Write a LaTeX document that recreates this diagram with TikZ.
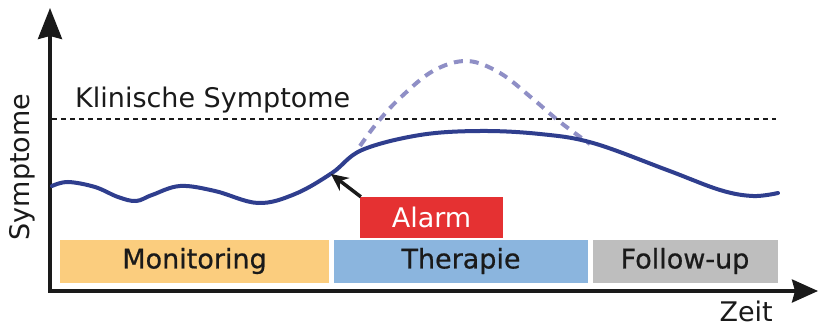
\documentclass[tikz,border=0pt]{standalone}
\usepackage{fontspec}
\setmainfont{DejaVu Sans}
\newfontfamily\boxfont{DejaVu Sans}[FakeBold=0.6]
\usetikzlibrary{arrows.meta}
\definecolor{axisc}{HTML}{1A1A1A}
\definecolor{curvec}{HTML}{2F3E8E}
\definecolor{dashc}{HTML}{8F8FC6}
\definecolor{monc}{HTML}{FBCD7E}
\definecolor{therc}{HTML}{8BB5DE}
\definecolor{follc}{HTML}{BEBEBE}
\definecolor{alarmc}{HTML}{E53132}
\tikzset{
  axisline/.style={line width=3.5pt, draw=axisc},
  lbl/.style={font=\fontsize{27}{32}\selectfont, text=axisc, inner sep=0pt},
  phasebox/.style={minimum height=43pt, inner sep=0pt, draw=none,
    font=\boxfont\fontsize{27}{32}\selectfont, text=axisc},
  mainc/.style={line width=4pt, draw=curvec, line cap=round},
  altc/.style={line width=4pt, draw=dashc, dash pattern=on 9pt off 7pt},
  thresh/.style={line width=1.5pt, draw=axisc, dash pattern=on 5pt off 4pt},
}
\begin{document}
\begin{tikzpicture}[x=1pt,y=-1pt]
\useasboundingbox (0,0) rectangle (818,326);
\fill[white] (0,0) rectangle (818,326);
% axes
\coordinate (o) at (50,291);
\coordinate (ytop) at (50,8);
\coordinate (xend) at (818,291);
\coordinate (xstart) at (48,291);
\draw[axisline, -{Stealth[length=31pt,width=24pt,inset=3pt]}] (o) -- (ytop);
\draw[axisline, -{Stealth[length=26pt,width=23pt,inset=3pt]}] (xstart) -- (xend);
\node[lbl, rotate=90] (ylab) at (22,167) {Symptome};
\node[lbl, anchor=base east] (xlab) at (773,321) {Zeit};
% threshold
\coordinate (t1) at (52,119);
\coordinate (t2) at (776,119);
\draw[thresh] (t1) -- (t2);
\node[lbl, anchor=base west] (klin) at (75,107) {Klinische Symptome};
% alternative curve (dashed)
\draw[altc] plot[smooth, tension=0.6] coordinates {(360,146) (377,123) (400,98) (433,71) (467,61) (500,73) (533,99) (560,122) (590,144)};
% main curve
\draw[mainc] plot[smooth, tension=0.6] coordinates {(52,186) (68,182) (95,187) (118,197) (136,201) (152,195) (180,186) (215,191) (258,203) (295,194) (332,173) (362,150) (420,135) (480,131) (540,134) (593,143) (667,170) (720,190) (753,196) (778,193)};
% phase boxes
\node[phasebox, fill=monc, minimum width=269pt] (mon) at (194.5,261) {Monitoring};
\node[phasebox, fill=therc, minimum width=254pt] (ther) at (461,261) {Therapie};
\node[phasebox, fill=follc, minimum width=185pt] (foll) at (685,261) {Follow-up};
\node[phasebox, fill=alarmc, minimum width=143pt, minimum height=41pt, text=white, font=\fontsize{27}{32}\selectfont] (alarm) at (431.5,217.5) {Alarm};
% alarm arrow
\coordinate (hit) at (331,174);
\draw[line width=3.5pt, draw=axisc, -{Stealth[length=17pt,width=16pt]}] ([xshift=1pt]alarm.north west) -- (hit);
\end{tikzpicture}
\end{document}
